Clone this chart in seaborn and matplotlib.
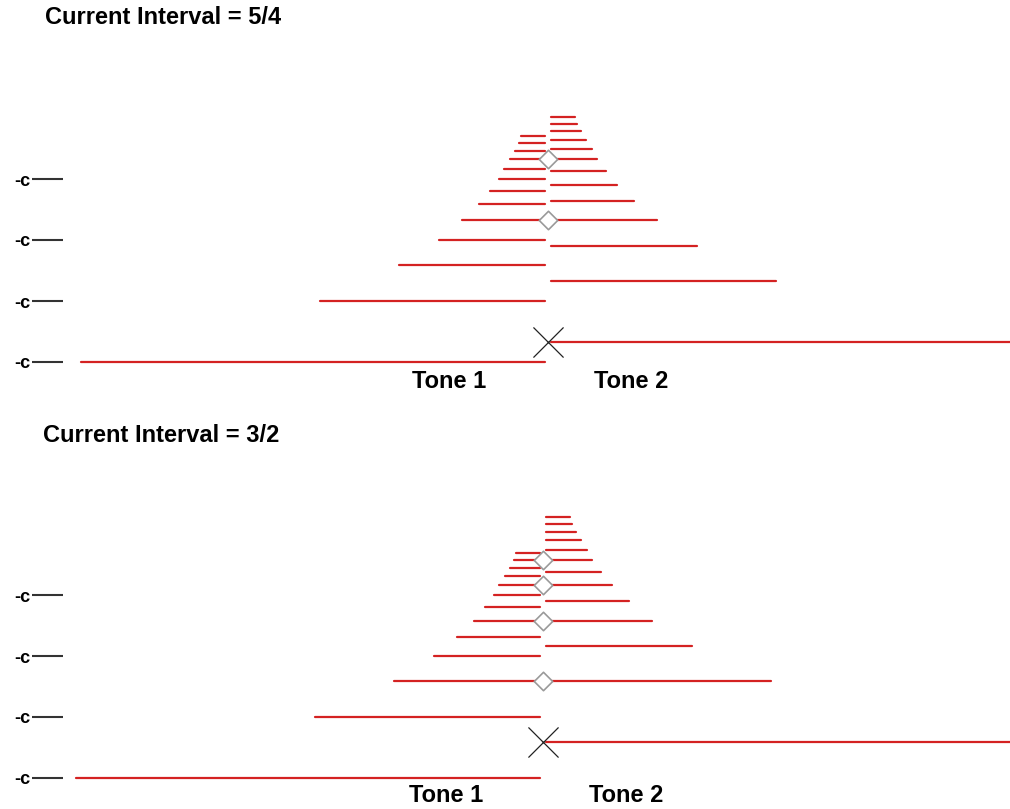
import numpy as np
import pandas as pd
import matplotlib
matplotlib.use("Agg")
import matplotlib.pyplot as plt
import seaborn as sns

# Harmonic spectra of two tones: each horizontal bar is one partial,
# its height is the partial's pitch (log2 frequency), its length the amplitude.
interval_labels = ["5/4", "3/2"]
interval_ratios = [5 / 4, 3 / 2]
harmonic_numbers = [1, 2, 3, 4, 5, 6, 7, 8, 9, 10, 11, 12, 13]
harmonic_amplitudes = [1.000, 0.485, 0.315, 0.228, 0.179, 0.142, 0.119,
                       0.099, 0.088, 0.075, 0.065, 0.056, 0.052]
octave_ticks = [1, 2, 4, 8]
octave_tick_labels = ["-c", "-c", "-c", "-c"]
tone_names = ["Tone 1", "Tone 2"]

sns.set_theme(style="white")
plt.rcParams["font.family"] = ["Liberation Sans", "DejaVu Sans"]

W, H = 1010, 809
fig = plt.figure(figsize=(W / 100, H / 100), dpi=100)
fig.patch.set_facecolor("white")

RED = "#d42222"
PX_PER_UNIT = 464.0       # pixels per unit amplitude
GAP = 3.0 / PX_PER_UNIT   # half gap between the two spectra

# pixel layout of each panel: (axes top, axes bottom, fundamental row, octave height, centre x,
#                              title y, tone label y, tone1 x, tone2 x, title x)
panels = [
    dict(top=40, bottom=372, fund=362.0, octave=61.0, cx=548, title_y=18, tone_y=381,
         t1x=449, t2x=631, title_x=45),
    dict(top=455, bottom=788, fund=777.5, octave=60.7, cx=543, title_y=435, tone_y=796,
         t1x=446, t2x=626, title_x=43),
]


def fig_xy(x, y):
    return x / W, 1 - y / H


for label, ratio, lay in zip(interval_labels, interval_ratios, panels):
    left_px = 63
    ax = fig.add_axes([left_px / W, 1 - lay["bottom"] / H,
                       (W - left_px) / W, (lay["bottom"] - lay["top"]) / H])
    ax.set_facecolor("white")

    # long-form segments: tone 1 extends left of the centre, tone 2 to the right
    rows = []
    seg = 0
    for n, a in zip(harmonic_numbers, harmonic_amplitudes):
        f1 = n
        rows.append(dict(seg=seg, x=-GAP - a, f=f1))
        rows.append(dict(seg=seg, x=-GAP, f=f1))
        seg += 1
        f2 = n * ratio
        rows.append(dict(seg=seg, x=GAP, f=f2))
        rows.append(dict(seg=seg, x=GAP + a, f=f2))
        seg += 1
    df = pd.DataFrame(rows)
    sns.lineplot(data=df, x="x", y="f", units="seg", estimator=None, sort=False,
                 color=RED, linewidth=1.6, ax=ax, legend=False)

    # partials shared by both tones
    f1_set = {float(n) for n in harmonic_numbers}
    shared = sorted({round(n * ratio, 6) for n in harmonic_numbers
                     if round(n * ratio, 6) in f1_set})
    if shared:
        sns.scatterplot(x=[0.0] * len(shared), y=shared, marker="D", s=88,
                        facecolor="white", edgecolor="#9a9a9a", linewidth=1.2,
                        ax=ax, zorder=5, legend=False)

    # the current position of tone 2's fundamental
    sns.scatterplot(x=[0.0], y=[ratio], marker="x", s=470, color="#222222",
                    linewidth=0.9, ax=ax, zorder=6, legend=False)

    ax.set_yscale("log", base=2)
    ax.set_ylim(2 ** (-(lay["bottom"] - lay["fund"]) / lay["octave"]),
                2 ** ((lay["fund"] - lay["top"]) / lay["octave"]))
    ax.set_xlim((left_px - lay["cx"]) / PX_PER_UNIT, (W - lay["cx"]) / PX_PER_UNIT)
    ax.minorticks_off()
    ax.set_yticks(octave_ticks, labels=octave_tick_labels)
    ax.set_xticks([])
    ax.tick_params(axis="y", which="major", left=True, direction="out",
                   length=22.5, width=1.5, color="#333333", pad=1.0,
                   labelsize=13, labelcolor="black")
    for t in ax.get_yticklabels():
        t.set_fontweight("bold")
    ax.set_xlabel("")
    ax.set_ylabel("")
    for s in ax.spines.values():
        s.set_visible(False)

    tx, ty = fig_xy(lay["title_x"], lay["title_y"])
    fig.text(tx, ty, f"Current Interval = {label}", ha="left", va="center",
             fontsize=17, fontweight="bold", color="black")
    for name, xp in zip(tone_names, (lay["t1x"], lay["t2x"])):
        nx, ny = fig_xy(xp, lay["tone_y"])
        fig.text(nx, ny, name, ha="center", va="center", fontsize=17,
                 fontweight="bold", color="black")

fig.savefig("out.png", dpi=100, facecolor="white")
